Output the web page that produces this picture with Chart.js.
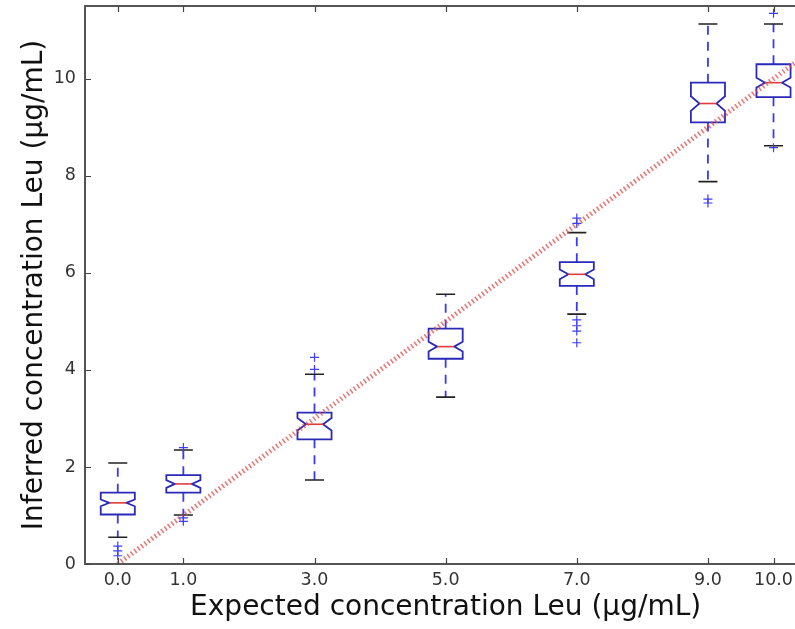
<!DOCTYPE html>
<html>
<head>
<meta charset="utf-8">
<script src="https://cdn.jsdelivr.net/npm/chart.js@4.4.0/dist/chart.umd.min.js"></script>
<style>
  html, body { margin: 0; padding: 0; background: #fff; overflow: hidden; }
  canvas { display: block; }
</style>
</head>
<body>
<canvas id="chart" width="812" height="629"></canvas>
<script>
// ================= DATA =================
const positions = [0, 1, 3, 5, 7, 9, 10];
const xTickLabels = ["0.0", "1.0", "3.0", "5.0", "7.0", "9.0", "10.0"];
const yTicks = [0, 2, 4, 6, 8, 10];

const whiskerLow  = [0.55, 1.01, 1.73, 3.44, 5.15, 7.88, 8.62];
const q1          = [1.02, 1.47, 2.57, 4.23, 5.73, 9.10, 9.62];
const medians     = [1.26, 1.65, 2.88, 4.48, 5.97, 9.49, 9.92];
const q3          = [1.47, 1.83, 3.12, 4.85, 6.22, 9.92, 10.30];
const whiskerHigh = [2.08, 2.35, 3.91, 5.56, 6.83, 11.13, 11.13];
const notchHalf   = [0.07, 0.08, 0.13, 0.10, 0.10, 0.15, 0.10];
const outliers = [
  [0.37, 0.27, 0.17],
  [2.40, 0.95, 0.88],
  [4.26, 4.01],
  [],
  [7.13, 7.02, 5.03, 4.91, 4.80, 4.56],
  [7.52, 7.44],
  [11.35, 8.58],
];
const identityX = [0, 10.5];

// ================= STYLE =================
const BOX_W = 0.52;   // in x units
const CAP_W = 0.29;
const FONT = "'DejaVu Sans', sans-serif";

const outlierPoints = [];
positions.forEach((p, i) => outliers[i].forEach((v) => outlierPoints.push({ x: p, y: v })));

// ================= BOX PLUGIN =================
const boxPlugin = {
  id: "boxes",
  beforeDatasetsDraw(chart) {
    const { ctx, scales: { x, y } } = chart;
    ctx.save();
    positions.forEach((p, i) => {
      const xc = x.getPixelForValue(p);
      const xl = x.getPixelForValue(p - BOX_W / 2);
      const xr = x.getPixelForValue(p + BOX_W / 2);
      const nl = x.getPixelForValue(p - BOX_W / 4);
      const nr = x.getPixelForValue(p + BOX_W / 4);
      const cl = x.getPixelForValue(p - CAP_W / 2);
      const cr = x.getPixelForValue(p + CAP_W / 2);
      const yq1 = y.getPixelForValue(q1[i]);
      const yq3 = y.getPixelForValue(q3[i]);
      const ym = y.getPixelForValue(medians[i]);
      const ynl = y.getPixelForValue(medians[i] - notchHalf[i]);
      const ynh = y.getPixelForValue(medians[i] + notchHalf[i]);
      const ylo = y.getPixelForValue(whiskerLow[i]);
      const yhi = y.getPixelForValue(whiskerHigh[i]);

      // whiskers
      ctx.strokeStyle = "#3a3af0";
      ctx.lineWidth = 1.8;
      ctx.setLineDash([9, 7]);
      ctx.beginPath();
      ctx.moveTo(xc, yq3); ctx.lineTo(xc, yhi);
      ctx.moveTo(xc, yq1); ctx.lineTo(xc, ylo);
      ctx.stroke();
      ctx.setLineDash([]);

      // caps
      ctx.strokeStyle = "#222";
      ctx.lineWidth = 1.6;
      ctx.beginPath();
      ctx.moveTo(cl, yhi); ctx.lineTo(cr, yhi);
      ctx.moveTo(cl, ylo); ctx.lineTo(cr, ylo);
      ctx.stroke();

      // notched box
      ctx.fillStyle = "#fff";
      ctx.strokeStyle = "#2a2ab8";
      ctx.lineWidth = 1.8;
      ctx.beginPath();
      ctx.moveTo(xl, yq1);
      ctx.lineTo(xl, ynl);
      ctx.lineTo(nl, ym);
      ctx.lineTo(xl, ynh);
      ctx.lineTo(xl, yq3);
      ctx.lineTo(xr, yq3);
      ctx.lineTo(xr, ynh);
      ctx.lineTo(nr, ym);
      ctx.lineTo(xr, ynl);
      ctx.lineTo(xr, yq1);
      ctx.closePath();
      ctx.fill();
      ctx.stroke();

      // median
      ctx.strokeStyle = "#e03c3c";
      ctx.lineWidth = 1.6;
      ctx.beginPath();
      ctx.moveTo(nl, ym); ctx.lineTo(nr, ym);
      ctx.stroke();
    });
    ctx.restore();
  },
};

// ================= FRAME + INWARD TICKS =================
const framePlugin = {
  id: "frame",
  afterDraw(chart) {
    const { ctx, chartArea: a, scales: { x, y } } = chart;
    ctx.save();
    ctx.strokeStyle = "#555";
    ctx.lineWidth = 2;
    ctx.strokeRect(a.left, a.top, a.right - a.left, a.bottom - a.top);
    ctx.lineWidth = 1.2;
    ctx.strokeStyle = "#444";
    ctx.beginPath();
    positions.forEach((p) => {
      const px = Math.round(x.getPixelForValue(p)) + 0.5;
      ctx.moveTo(px, a.bottom); ctx.lineTo(px, a.bottom - 6);
      ctx.moveTo(px, a.top); ctx.lineTo(px, a.top + 6);
    });
    yTicks.forEach((v) => {
      const py = Math.round(y.getPixelForValue(v)) + 0.5;
      ctx.moveTo(a.left, py); ctx.lineTo(a.left + 6, py);
      ctx.moveTo(a.right, py); ctx.lineTo(a.right - 6, py);
    });
    ctx.stroke();
    ctx.restore();
  },
};

// ================= CHART =================
new Chart(document.getElementById("chart"), {
  data: {
    datasets: [
      {
        type: "scatter",
        label: "outliers",
        data: outlierPoints,
        pointStyle: "cross",
        radius: 4.5,
        borderColor: "#3c3cff",
        borderWidth: 1.2,
        backgroundColor: "#3c3cff",
      },
      {
        type: "line",
        label: "expected",
        data: identityX.map((v) => ({ x: v, y: v })),
        borderColor: "rgba(222, 70, 70, 0.72)",
        borderWidth: 5,
        borderDash: [1.6, 2.6],
        pointRadius: 0,
        fill: false,
      },
    ],
  },
  options: {
    responsive: false,
    animation: false,
    layout: { padding: { left: 0, right: 1, top: 6, bottom: 0 } },
    plugins: { legend: { display: false }, tooltip: { enabled: false } },
    scales: {
      x: {
        type: "linear",
        min: -0.5,
        max: 10.5,
        afterBuildTicks: (s) => { s.ticks = positions.map((v) => ({ value: v })); },
        afterFit: (s) => {
          s.height = 65;
          s.paddingLeft = 0;
          s.paddingRight = 0;
        },
        grid: { display: false, drawTicks: false },
        border: { display: false },
        ticks: {
          autoSkip: false,
          maxRotation: 0,
          padding: 6,
          color: "#333",
          font: { family: FONT, size: 17.5 },
          callback: (v) => xTickLabels[positions.indexOf(v)],
        },
        title: {
          display: true,
          text: "Expected concentration Leu (µg/mL)",
          color: "#111",
          font: { family: FONT, size: 28 },
          padding: { top: 0, bottom: 4 },
        },
      },
      y: {
        type: "linear",
        min: 0,
        max: 11.5,
        afterBuildTicks: (s) => { s.ticks = yTicks.map((v) => ({ value: v })); },
        afterFit: (s) => {
          s.width = 85;
          s.paddingTop = 0;
          s.paddingBottom = 0;
        },
        grid: { display: false, drawTicks: false },
        border: { display: false },
        ticks: {
          padding: 9,
          color: "#333",
          font: { family: FONT, size: 17.5 },
          callback: (v) => String(v),
        },
        title: {
          display: true,
          text: "Inferred concentration Leu (µg/mL)",
          color: "#111",
          font: { family: FONT, size: 28 },
          padding: { top: 18, bottom: 0 },
        },
      },
    },
  },
  plugins: [boxPlugin, framePlugin],
});
</script>
</body>
</html>
